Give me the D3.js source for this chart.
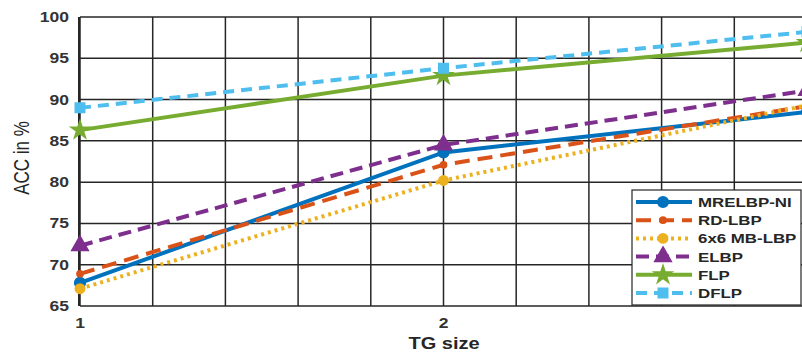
<!DOCTYPE html>
<html>
<head>
<meta charset="utf-8">
<script src="https://cdn.jsdelivr.net/npm/d3@7/dist/d3.min.js"></script>
<style>
  body { margin: 0; background: #fff; }
  svg { display: block; font-family: "Liberation Sans", Arial, sans-serif; }
</style>
</head>
<body>
<div id="chart"></div>
<script>
// data
const tgSize = [1, 2, 3];
const mrelbpNI = [67.8, 83.6, 88.5];
const rdLBP = [68.9, 82.1, 89.2];
const mbLBP6x6 = [67.1, 80.2, 89.3];
const elbp = [72.3, 84.5, 91.1];
const flp = [86.3, 92.9, 96.9];
const dflp = [89.0, 93.8, 98.2];

const yTicks = [65, 70, 75, 80, 85, 90, 95, 100];
const xTicks = [1, 2, 3];
const xGrid = [1, 1.2, 1.4, 1.6, 1.8, 2, 2.2, 2.4, 2.6, 2.8, 3];

const series = [
    {name: 'MRELBP-NI', values: mrelbpNI, color: '#0072BD', dash: null, marker: 'circle', size: 90},
    {name: 'RD-LBP', values: rdLBP, color: '#D95319', dash: '15,8', marker: 'circle', size: 30},
    {name: '6x6 MB-LBP', values: mbLBP6x6, color: '#EDB120', dash: '3,4', marker: 'circle', size: 70},
    {name: 'ELBP', values: elbp, color: '#7E2F8E', dash: '13,7', marker: 'triangle', size: 120},
    {name: 'FLP', values: flp, color: '#77AC30', dash: null, marker: 'star', size: 100},
    {name: 'DFLP', values: dflp, color: '#4DBEEE', dash: '11,7', marker: 'square', size: 90}
];

const width = 802, height = 352;
const sx = 1.25; // the picture is stretched sideways

const svg = d3.select('#chart')
    .append('svg')
    .attr('width', width)
    .attr('height', height);

const scaleX = d3.scaleLinear().domain([1, 3]).range([80, 807]);
const scaleY = d3.scaleLinear().domain([65, 100]).range([306, 17]);

const symbols = {circle: d3.symbolCircle, triangle: d3.symbolTriangle, star: d3.symbolStar, square: d3.symbolSquare};

// grid
svg.append('g')
    .selectAll('line')
    .data(xGrid)
    .enter()
    .append('line')
    .attr('x1', d => scaleX(d)).attr('x2', d => scaleX(d))
    .attr('y1', scaleY(100)).attr('y2', scaleY(65))
    .style('stroke', '#262626')
    .style('stroke-width', 1.5);

svg.append('g')
    .selectAll('line')
    .data(yTicks)
    .enter()
    .append('line')
    .attr('x1', scaleX(1)).attr('x2', width)
    .attr('y1', d => scaleY(d)).attr('y2', d => scaleY(d))
    .style('stroke', '#262626')
    .style('stroke-width', 1.5);

// left axis line
svg.append('line')
    .attr('x1', scaleX(1) - 1).attr('x2', scaleX(1) - 1)
    .attr('y1', scaleY(100)).attr('y2', scaleY(65))
    .style('stroke', '#262626')
    .style('stroke-width', 2);

// tick labels
svg.append('g')
    .selectAll('text')
    .data(yTicks)
    .enter()
    .append('text')
    .attr('transform', d => 'translate(69,' + (scaleY(d) + 5) + ') scale(' + sx + ',1)')
    .style('text-anchor', 'end')
    .style('font-weight', 'bold')
    .style('font-size', '14px')
    .style('fill', '#333')
    .text(d => d);

svg.append('g')
    .selectAll('text')
    .data(xTicks)
    .enter()
    .append('text')
    .attr('transform', d => 'translate(' + scaleX(d) + ',328) scale(' + sx + ',1)')
    .style('text-anchor', 'middle')
    .style('font-weight', 'bold')
    .style('font-size', '14px')
    .style('fill', '#333')
    .text(d => d);

// axis titles
svg.append('text')
    .attr('transform', 'translate(444,349) scale(' + sx + ',1)')
    .style('text-anchor', 'middle')
    .style('font-weight', 'bold')
    .style('font-size', '16px')
    .style('fill', '#262626')
    .text('TG size');

svg.append('text')
    .attr('transform', 'translate(29,158) scale(' + sx + ',1) rotate(-90)')
    .style('text-anchor', 'middle')
    .style('font-size', '17px')
    .style('fill', '#262626')
    .text('ACC in %');

// lines
const line = d3.line()
    .x((d, i) => scaleX(tgSize[i]))
    .y(d => scaleY(d));

series.forEach(s => {
    svg.append('path')
        .datum(s.values)
        .attr('d', line)
        .style('fill', 'none')
        .style('stroke', s.color)
        .style('stroke-width', 4)
        .style('stroke-dasharray', s.dash);

    svg.append('g')
        .selectAll('path')
        .data(s.values)
        .enter()
        .append('path')
        .attr('transform', (d, i) => 'translate(' + scaleX(tgSize[i]) + ',' + scaleY(d) + ')')
        .attr('d', d3.symbol().type(symbols[s.marker]).size(s.size))
        .style('fill', s.color)
        .style('stroke', s.color)
        .style('stroke-width', 1.5);
});

// legend
const legend = svg.append('g').attr('transform', 'translate(632,190)');

legend.append('rect')
    .attr('x', 0).attr('y', 0)
    .attr('width', 169).attr('height', 115)
    .style('fill', '#fff')
    .style('stroke', '#262626')
    .style('stroke-width', 1.2);

series.forEach((s, i) => {
    const ly = 12 + i * 18.2;
    legend.append('line')
        .attr('x1', 4).attr('x2', 60)
        .attr('y1', ly).attr('y2', ly)
        .style('stroke', s.color)
        .style('stroke-width', 4)
        .style('stroke-dasharray', s.dash);
    legend.append('path')
        .attr('transform', 'translate(31,' + ly + ')')
        .attr('d', d3.symbol().type(symbols[s.marker]).size(s.size))
        .style('fill', s.color)
        .style('stroke', s.color)
        .style('stroke-width', 1.5);
    legend.append('text')
        .attr('transform', 'translate(66,' + (ly + 5) + ') scale(' + sx + ',1)')
        .style('font-weight', 'bold')
        .style('font-size', '13.5px')
        .style('fill', '#262626')
        .text(s.name);
});
</script>
</body>
</html>
